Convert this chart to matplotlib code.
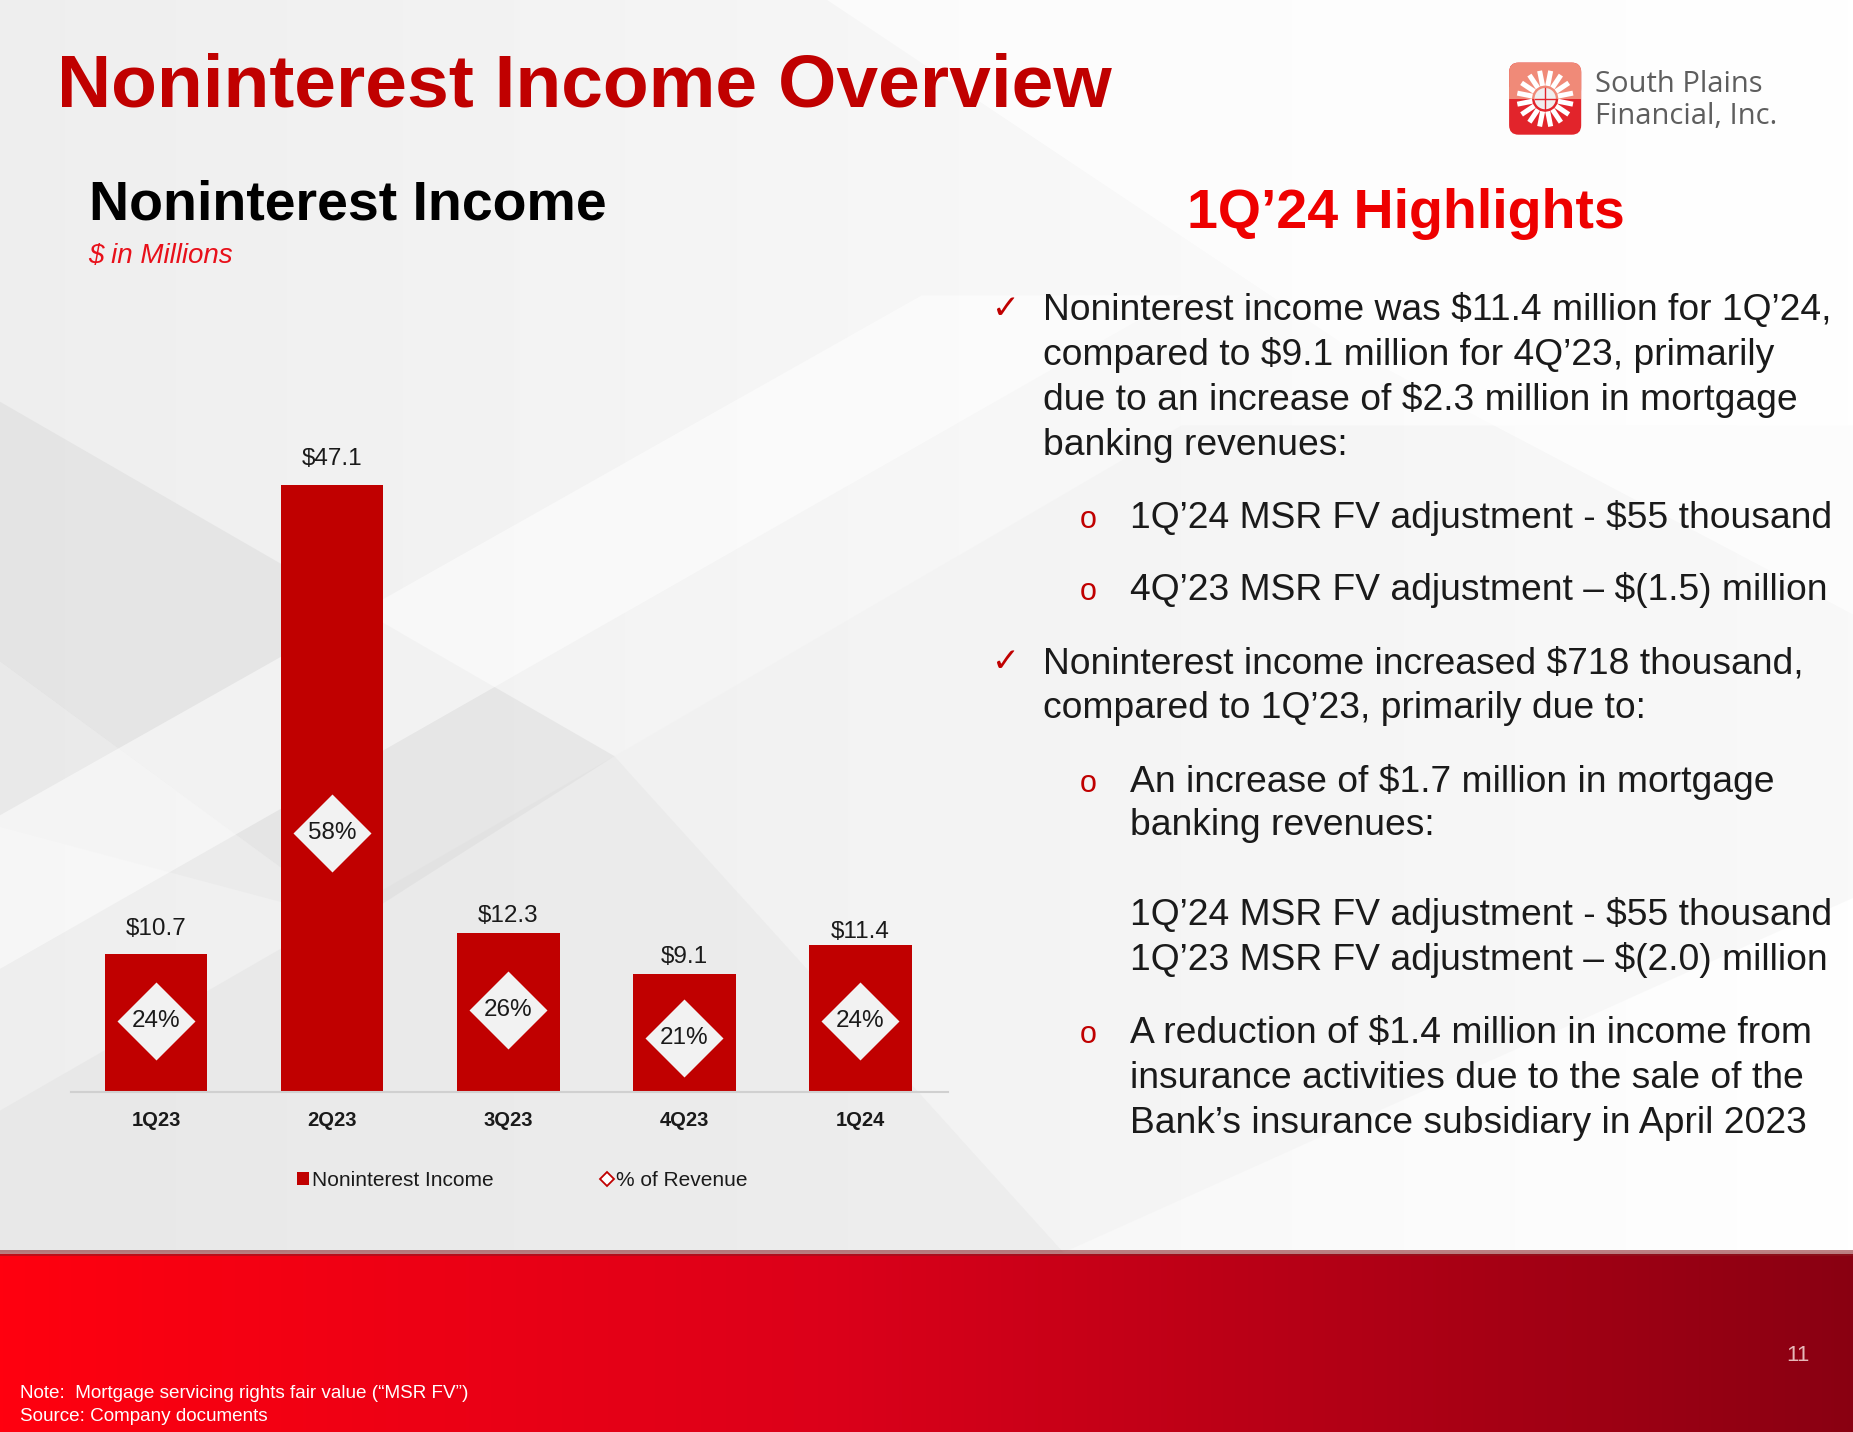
import numpy as np
import matplotlib
matplotlib.use("Agg")
import matplotlib.pyplot as plt
from matplotlib.patches import Polygon, FancyBboxPatch, Rectangle, Circle
from matplotlib.lines import Line2D
from matplotlib.patches import Patch

# ---------------- data ----------------
quarters = ["1Q23", "2Q23", "3Q23", "4Q23", "1Q24"]
income = [10.7, 47.1, 12.3, 9.1, 11.4]
income_labels = ["$10.7", "$47.1", "$12.3", "$9.1", "$11.4"]
pct_revenue = [24, 58, 26, 21, 24]
pct_labels = ["24%", "58%", "26%", "21%", "24%"]

title = "Noninterest Income Overview"
chart_title = "Noninterest Income"
chart_sub = "$ in Millions"
hl_title = "1Q\u201924 Highlights"
legend_labels = ["Noninterest Income", "% of Revenue"]

# label offsets above bar tops (pixels) - style only
label_offsets = [25, 26, 17, 17, 13]

# ---------------- styling ----------------
FONT = "Liberation Sans"
plt.rcParams["font.family"] = [FONT, "DejaVu Sans"]
BAR_RED = "#C00000"
TITLE_RED = "#C00000"
HL_RED = "#EE0000"
TXT = "#1A1A1A"

W, H = 1568.0, 1212.0  # layout grid (scaled to figure)
fig = plt.figure(figsize=(18.53, 14.32), dpi=100)
fig.patch.set_facecolor("#F6F6F6")

bg = fig.add_axes([0, 0, 1, 1], zorder=0)
bg.set_xlim(0, W)
bg.set_ylim(H, 0)
bg.axis("off")

# subtle background: horizontal light gradient plus soft diagonal shapes
g = np.linspace(0.935, 1.0, 400)
bgimg = np.dstack([np.tile(g, (2, 1))] * 3)
bg.imshow(bgimg, extent=(0, W, 1060, 0), aspect="auto", zorder=0)
shapes = [
    ([(0, 340), (520, 640), (300, 780), (0, 560)], "#D6D6D6", 0.40),
    ([(0, 560), (300, 780), (0, 700)], "#E2E2E2", 0.35),
    ([(0, 690), (780, 250), (1000, 250), (0, 820)], "#FFFFFF", 0.50),
    ([(0, 940), (520, 640), (900, 1060), (0, 1060)], "#DDDDDD", 0.35),
    ([(520, 640), (1000, 360), (1568, 360), (1568, 760), (900, 1060)], "#EEEEEE", 0.35),
    ([(700, 0), (1568, 0), (1568, 520), (1150, 300)], "#FFFFFF", 0.65),
]
for pts, c, a in shapes:
    bg.add_patch(Polygon(pts, closed=True, facecolor=c, edgecolor="none", alpha=a, zorder=1))

# bottom red band with gradient
n = 600
t = np.linspace(0, 1, n)
left = np.array([1.0, 0.0, 0.06])
mid = np.array([0.86, 0.0, 0.10])
right = np.array([0.54, 0.0, 0.07])
cols = np.where(t[:, None] < 0.45,
                left + (mid - left) * (t[:, None] / 0.45),
                mid + (right - mid) * ((t[:, None] - 0.45) / 0.55))
band = np.repeat(cols[None, :, :], 2, axis=0)
bg.imshow(band, extent=(0, W, H, 1062), aspect="auto", zorder=2)
bg.add_patch(Rectangle((0, 1058), W, 5, facecolor="#8A1A20", edgecolor="none", alpha=0.55, zorder=3))

# ---------------- titles ----------------
bg.text(48, 90, title, fontsize=54, fontweight="bold", color=TITLE_RED, ha="left",
        va="baseline", zorder=5)
bg.text(75, 186, chart_title, fontsize=40, fontweight="bold", color="#000000", ha="left",
        va="baseline", zorder=5)
bg.text(75, 223, chart_sub, fontsize=20, fontstyle="italic", color="#E8101A", ha="left",
        va="baseline", zorder=5)
bg.text(1190, 193, hl_title, fontsize=40, fontweight="bold", color=HL_RED, ha="center",
        va="baseline", zorder=5)

# ---------------- logo ----------------
bg.add_patch(FancyBboxPatch((1277, 53), 61, 61, boxstyle="round,pad=0,rounding_size=8",
                            facecolor="#E2242B", edgecolor="none", zorder=5))
bg.add_patch(FancyBboxPatch((1277, 53), 61, 30, boxstyle="round,pad=0,rounding_size=8",
                            facecolor="#F08A78", edgecolor="none", zorder=5))
bg.add_patch(Rectangle((1277, 74), 61, 10, facecolor="#F08A78", edgecolor="none", zorder=5))
cx, cy = 1307.5, 83.5
for k in range(16):
    ang = np.deg2rad(k * 22.5 + 11.25)
    r0, r1 = 11, 24
    bg.add_line(Line2D([cx + r0 * np.cos(ang), cx + r1 * np.cos(ang)],
                       [cy + r0 * np.sin(ang), cy + r1 * np.sin(ang)],
                       color="white", lw=3.6, solid_capstyle="butt", zorder=6))
bg.add_patch(Circle((cx, cy), 9, facecolor="#EFEFEF", edgecolor="none", zorder=6))
bg.add_line(Line2D([cx - 9, cx + 9], [cy, cy], color="#E2242B", lw=1, zorder=7))
bg.add_line(Line2D([cx, cx], [cy - 9, cy + 9], color="#E2242B", lw=1, zorder=7))
bg.text(1350, 78, "South Plains", fontsize=21, family=["Open Sans", "DejaVu Sans"],
        color="#5E5E5E", ha="left", va="baseline", zorder=6)
bg.text(1350, 105, "Financial, Inc.", fontsize=21, family=["Open Sans", "DejaVu Sans"],
        color="#5E5E5E", ha="left", va="baseline", zorder=6)

# ---------------- highlights text ----------------
lines = [
    ("check", 883, 271, "Noninterest income was $11.4 million for 1Q\u201924,"),
    (None, 883, 309, "compared to $9.1 million for 4Q\u201923, primarily"),
    (None, 883, 347, "due to an increase of $2.3 million in mortgage"),
    (None, 883, 385, "banking revenues:"),
    ("o", 956, 447, "1Q\u201924 MSR FV adjustment - $55 thousand"),
    ("o", 956, 508, "4Q\u201923 MSR FV adjustment \u2013 $(1.5) million"),
    ("check", 883, 570, "Noninterest income increased $718 thousand,"),
    (None, 883, 608, "compared to 1Q\u201923, primarily due to:"),
    ("o", 956, 670, "An increase of $1.7 million in mortgage"),
    (None, 956, 707, "banking revenues:"),
    (None, 956, 783, "1Q\u201924 MSR FV adjustment - $55 thousand"),
    (None, 956, 821, "1Q\u201923 MSR FV adjustment \u2013 $(2.0) million"),
    ("o", 956, 883, "A reduction of $1.4 million in income from"),
    (None, 956, 921, "insurance activities due to the sale of the"),
    (None, 956, 959, "Bank\u2019s insurance subsidiary in April 2023"),
]
for kind, x, y, s in lines:
    bg.text(x, y, s, fontsize=26.8, color=TXT, ha="left", va="baseline", zorder=6)
    if kind == "check":
        bg.text(851, y - 2, "\u2713", fontsize=24, family=["DejaVu Sans"], color="#C00000",
                ha="center", va="baseline", zorder=6)
    elif kind == "o":
        bg.text(921, y, "o", fontsize=22, color="#C00000", ha="center", va="baseline", zorder=6)

# ---------------- footer ----------------
bg.text(17, 1183, "Note:  Mortgage servicing rights fair value (\u201cMSR FV\u201d)", fontsize=13.6,
        color="white", ha="left", va="baseline", zorder=6)
bg.text(17, 1203, "Source: Company documents", fontsize=13.6, color="white", ha="left",
        va="baseline", zorder=6)
bg.text(1521, 1152, "11", fontsize=16, color="#E6B8B8", ha="center", va="baseline", zorder=6)

# ---------------- chart ----------------
ax = fig.add_axes([60 / W, 1 - 924 / H, (802 - 60) / W, (924 - 324) / H], zorder=2)
ax.patch.set_alpha(0)
x = np.arange(len(quarters))
ax.bar(x, income, width=0.584, color=BAR_RED, zorder=2)
ax.set_xlim(-0.483, 4.497)
ax.set_ylim(0, 55)
for xi, v, lab, off in zip(x, income, income_labels, label_offsets):
    ax.annotate(lab, (xi, v), xytext=(0, off), textcoords="offset pixels", ha="center",
                va="center", fontsize=17.5, color=TXT)
for s in ["top", "right", "left"]:
    ax.spines[s].set_visible(False)
ax.spines["bottom"].set_color("#D0D0D0")
ax.spines["bottom"].set_linewidth(1.5)
ax.set_yticks([])
ax.set_xticks(x)
ax.set_xticklabels(quarters, fontsize=14.5, fontweight="bold", color=TXT)
ax.tick_params(axis="x", length=0, pad=14)

ax2 = ax.twinx()
ax2.set_zorder(3)
ax2.patch.set_alpha(0)
ax2.set_ylim(11.3, 139.5)
ax2.plot(x, pct_revenue, linestyle="none", marker="D", markersize=39.5,
         markerfacecolor="#F2F2F2", markeredgecolor="none", zorder=3, clip_on=False)
for xi, v, lab in zip(x, pct_revenue, pct_labels):
    ax2.text(xi, v, lab, ha="center", va="center", fontsize=17.5, color=TXT, zorder=4)
ax2.axis("off")

handles = [Patch(facecolor=BAR_RED, edgecolor="none"),
           Line2D([], [], linestyle="none", marker="D", markersize=7.5,
                  markerfacecolor="white", markeredgecolor="#C00000", markeredgewidth=1.3)]
leg = ax.legend(handles, legend_labels, loc="center", bbox_to_anchor=(0.515, -0.125),
                ncol=2, frameon=False, fontsize=15, handlelength=0.55, handleheight=0.55,
                handletextpad=0.15, columnspacing=5.2)
for txt in leg.get_texts():
    txt.set_color(TXT)

fig.savefig("out.png", dpi=100, facecolor=fig.get_facecolor())
